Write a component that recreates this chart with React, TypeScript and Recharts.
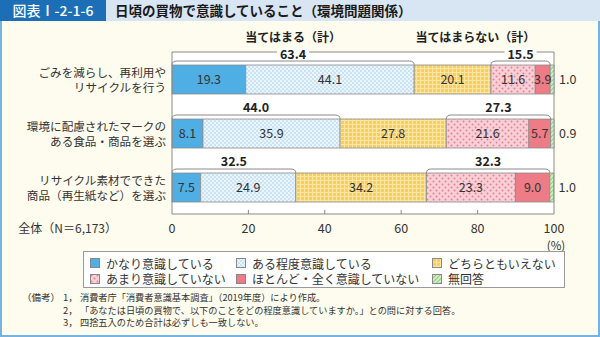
import React from 'react';
import { BarChart, Bar, XAxis, YAxis, LabelList, CartesianGrid } from 'recharts';

// ---- data ----
const categories = [
  'ごみを減らし、再利用や\nリサイクルを行う',
  '環境に配慮されたマークの\nある食品・商品を選ぶ',
  'リサイクル素材でできた\n商品（再生紙など）を選ぶ',
];
const veryConscious = [19.3, 8.1, 7.5];
const somewhatConscious = [44.1, 35.9, 24.9];
const neither = [20.1, 27.8, 34.2];
const notVery = [11.6, 21.6, 23.3];
const notAtAll = [3.9, 5.7, 9.0];
const noAnswer = [1.0, 0.9, 1.0];
const applyTotals = [63.4, 44.0, 32.5];
const notApplyTotals = [15.5, 27.3, 32.3];
const xTicks = [0, 20, 40, 60, 80, 100];
const seriesNames = [
  'かなり意識している',
  'ある程度意識している',
  'どちらともいえない',
  'あまり意識していない',
  'ほとんど・全く意識していない',
  '無回答',
];
const seriesKeys = ['very', 'somewhat', 'neither', 'notVery', 'notAtAll', 'noAnswer'];
const seriesFills = [
  '#4FAEE3',
  'url(#pBlueDots)',
  'url(#pYellowCheck)',
  'url(#pPinkDots)',
  '#EE7C86',
  'url(#pGreenHatch)',
];
const applyHeader = '当てはまる（計）';
const notApplyHeader = '当てはまらない（計）';
const totalLabel = '全体（N＝6,173）';
const footnotes = [
  ['1，', '消費者庁「消費者意識基本調査」（2019年度）により作成。'],
  ['2，', '「あなたは日頃の買物で、以下のことをどの程度意識していますか。」との問に対する回答。'],
  ['3，', '四捨五入のため合計は必ずしも一致しない。'],
];

const rows = categories.map((name, i) => ({
  name,
  very: veryConscious[i],
  somewhat: somewhatConscious[i],
  neither: neither[i],
  notVery: notVery[i],
  notAtAll: notAtAll[i],
  noAnswer: noAnswer[i],
}));

const FONT = '"Noto Sans CJK JP", "Noto Sans", sans-serif';
const TXT = '#333';
const EDGE = '#8a8a8a';

const fmt = (v: any) => Number(v).toFixed(1);

const XTick = (props: any) => {
  const { x, y, payload } = props;
  const v = payload.value;
  return (
    <g>
      {v > 0 && v < 100 && <line x1={x} x2={x} y1={y} y2={y - 4} stroke={EDGE} />}
      <text x={x} y={y + 13} textAnchor="middle" dominantBaseline="central" fontSize={12.5} fill={TXT} fontFamily={FONT}>
        {v}
      </text>
      {v === 100 && (
        <text x={x + 2} y={y + 31} textAnchor="middle" dominantBaseline="central" fontSize={11.5} fill={TXT} fontFamily={FONT}>
          (%)
        </text>
      )}
      {v === 0 && (
        <text x={x - 55} y={y + 13} textAnchor="end" dominantBaseline="central" fontSize={12} fill={TXT} fontFamily={FONT}>
          {totalLabel}
        </text>
      )}
    </g>
  );
};

const YTick = (props: any) => {
  const { x, y, payload } = props;
  const lines = String(payload.value).split('\n');
  return (
    <g>
      {lines.map((l, k) => (
        <text key={k} x={x} y={y - 7.5 + k * 15} textAnchor="end" dominantBaseline="central" fontSize={11.6} fill={TXT} fontFamily={FONT}>
          {l}
        </text>
      ))}
    </g>
  );
};

const bracketPath = (x1: number, x2: number, yb: number) => {
  const ly = yb - 4;
  const r = 5;
  return `M${x1},${yb} Q${x1},${ly} ${x1 + r},${ly} L${x2 - r},${ly} Q${x2},${ly} ${x2},${yb}`;
};

const BracketLabel = (props: any) => {
  const i = props.index;
  const vb = props.viewBox && props.viewBox.width != null ? props.viewBox : props;
  const x0 = vb.x;
  const yb = vb.y;
  const ppu = vb.width / veryConscious[i];
  const applyEnd = x0 + (veryConscious[i] + somewhatConscious[i]) * ppu;
  const notStart = applyEnd + neither[i] * ppu;
  const notEnd = notStart + (notVery[i] + notAtAll[i]) * ppu;
  const a = applyTotals[i].toFixed(1);
  const b = notApplyTotals[i].toFixed(1);
  const ca = (x0 + applyEnd) / 2;
  const cb = (notStart + notEnd) / 2;
  const first = i === 0;
  const ty = first ? yb - 12 : yb - 13;
  return (
    <g fontFamily={FONT}>
      <path d={bracketPath(x0, applyEnd, yb)} fill="none" stroke={EDGE} strokeWidth={1} />
      <path d={bracketPath(notStart, notEnd, yb)} fill="none" stroke={EDGE} strokeWidth={1} />
      {first && (
        <>
          <rect x={ca - 16} y={ty - 5} width={32} height={10} fill="#fff" />
          <rect x={cb - 16} y={ty - 5} width={32} height={10} fill="#fff" />
          <text x={ca} y={yb - 29} textAnchor="middle" dominantBaseline="central" fontSize={12} fontWeight={700} fill="#222">
            {applyHeader}
          </text>
          <text x={notEnd - 15} y={yb - 29} textAnchor="end" dominantBaseline="central" fontSize={12} fontWeight={700} fill="#222">
            {notApplyHeader}
          </text>
        </>
      )}
      <text x={ca} y={ty} textAnchor="middle" dominantBaseline="central" fontSize={12.5} fontWeight={700} fill="#222">
        {a}
      </text>
      <text x={cb} y={ty} textAnchor="middle" dominantBaseline="central" fontSize={12.5} fontWeight={700} fill="#222">
        {b}
      </text>
    </g>
  );
};

const Patterns = () => (
  <svg width={0} height={0} style={{ position: 'absolute' }}>
    <defs>
      <pattern id="pBlueDots" width={4} height={4} patternUnits="userSpaceOnUse">
        <rect width={4} height={4} fill="#C8E2F6" />
        <circle cx={1} cy={1} r={0.9} fill="#fff" />
        <circle cx={3} cy={3} r={0.9} fill="#fff" />
      </pattern>
      <pattern id="pYellowCheck" width={4} height={4} patternUnits="userSpaceOnUse">
        <rect width={4} height={4} fill="#F8CF5E" />
        <rect width={4} height={1} fill="#FCE6A3" />
        <rect width={1} height={4} fill="#FCE6A3" />
      </pattern>
      <pattern id="pPinkDots" width={6} height={6} patternUnits="userSpaceOnUse">
        <rect width={6} height={6} fill="#F9D0D7" />
        <circle cx={1.5} cy={1.5} r={1} fill="#E8808D" />
        <circle cx={4.5} cy={4.5} r={1} fill="#E8808D" />
      </pattern>
      <pattern id="pGreenHatch" width={3} height={3} patternUnits="userSpaceOnUse" patternTransform="rotate(45)">
        <rect width={3} height={3} fill="#D2EEC5" />
        <line x1={0} y1={0} x2={0} y2={3} stroke="#67B655" strokeWidth={1.2} />
      </pattern>
    </defs>
  </svg>
);

const legendCols = [6, 152, 348];

const LegendBox = () => (
  <div
    style={{
      position: 'absolute', left: 83, top: 251, width: 482, height: 37, boxSizing: 'border-box',
      border: '1px solid #9a9a9a', background: '#fff',
    }}
  >
    {seriesNames.map((n, i) => {
      const col = i % 3;
      const row = Math.floor(i / 3);
      return (
        <div
          key={n}
          style={{
            position: 'absolute', left: legendCols[col], top: 4 + row * 15.5, height: 14,
            display: 'flex', alignItems: 'center', fontSize: 12, color: TXT, fontFamily: FONT, whiteSpace: 'nowrap',
          }}
        >
          <svg width={10} height={10} style={{ marginRight: 6 }}>
            <rect x={0.5} y={0.5} width={9} height={9} fill={seriesFills[i]} stroke="#888" strokeWidth={1} />
          </svg>
          {n}
        </div>
      );
    })}
  </div>
);

export default function App() {
  return (
    <div
      style={{
        position: 'absolute', left: 0, top: 0, width: 600, height: 337, background: '#FEFCEF',
        overflow: 'hidden', fontFamily: FONT,
      }}
    >
      <Patterns />
      <div style={{ position: 'absolute', inset: 0, border: '2px solid #74B4E2', boxSizing: 'border-box' }} />
      <div style={{ position: 'absolute', left: 0, top: 0, width: 600, height: 21, background: '#D8E5F2' }} />
      <div
        style={{
          position: 'absolute', left: 0, top: 0, width: 106, height: 21, background: '#1C6FB6', color: '#fff',
          fontSize: 14, lineHeight: '21px', textAlign: 'center', fontWeight: 500,
        }}
      >
        図表Ⅰ-2-1-6
      </div>
      <div
        style={{
          position: 'absolute', left: 115, top: 0, height: 21, lineHeight: '21px', fontSize: 13.5, fontWeight: 700,
          color: '#1a1a1a', whiteSpace: 'nowrap',
        }}
      >
        日頃の買物で意識していること（環境問題関係）
      </div>
      <div style={{ position: 'absolute', left: 0, top: 0 }}>
        <BarChart
          width={600}
          height={337}
          layout="vertical"
          data={rows}
          margin={{ top: 52, right: 46, bottom: 93, left: 0 }}
          barSize={29}
        >
          <CartesianGrid
            fill="#fff"
            stroke={EDGE}
            horizontalCoordinatesGenerator={(p: any) => (p && p.offset ? [p.offset.top] : [])}
            verticalCoordinatesGenerator={(p: any) => (p && p.offset ? [p.offset.left + p.offset.width] : [])}
          />
          <XAxis
            type="number"
            domain={[0, 100]}
            ticks={xTicks}
            interval={0}
            axisLine={{ stroke: EDGE }}
            tickLine={false}
            tickSize={0}
            tickMargin={0}
            height={30}
            tick={<XTick />}
          />
          <YAxis
            type="category"
            dataKey="name"
            width={172}
            axisLine={{ stroke: EDGE }}
            tickLine={false}
            tickSize={0}
            tickMargin={6}
            tick={<YTick />}
          />
          {seriesKeys.map((k, i) => (
            <Bar
              key={k}
              dataKey={k}
              name={seriesNames[i]}
              stackId="s"
              fill={seriesFills[i]}
              stroke={EDGE}
              strokeWidth={0.8}
              isAnimationActive={false}
            >
              {i < 5 && (
                <LabelList dataKey={k} position="center" formatter={fmt} fill={TXT} fontSize={12.5} fontFamily={FONT} />
              )}
              {i === 5 && (
                <LabelList dataKey={k} position="right" offset={5} formatter={fmt} fill={TXT} fontSize={12.5} fontFamily={FONT} />
              )}
              {i === 0 && <LabelList dataKey={k} content={<BracketLabel />} />}
            </Bar>
          ))}
        </BarChart>
      </div>
      <LegendBox />
      {footnotes.map((f, i) => (
        <React.Fragment key={i}>
          {i === 0 && (
            <div style={{ position: 'absolute', left: 22, top: 291 + i * 12.5, fontSize: 9.5, lineHeight: '12px', color: TXT }}>
              （備考）
            </div>
          )}
          <div style={{ position: 'absolute', left: 63, top: 291 + i * 12.5, fontSize: 9.5, lineHeight: '12px', color: TXT }}>
            {f[0]}
          </div>
          <div style={{ position: 'absolute', left: 80, top: 291 + i * 12.5, fontSize: 9.2, lineHeight: '12px', color: TXT, whiteSpace: 'nowrap' }}>
            {f[1]}
          </div>
        </React.Fragment>
      ))}
    </div>
  );
}
